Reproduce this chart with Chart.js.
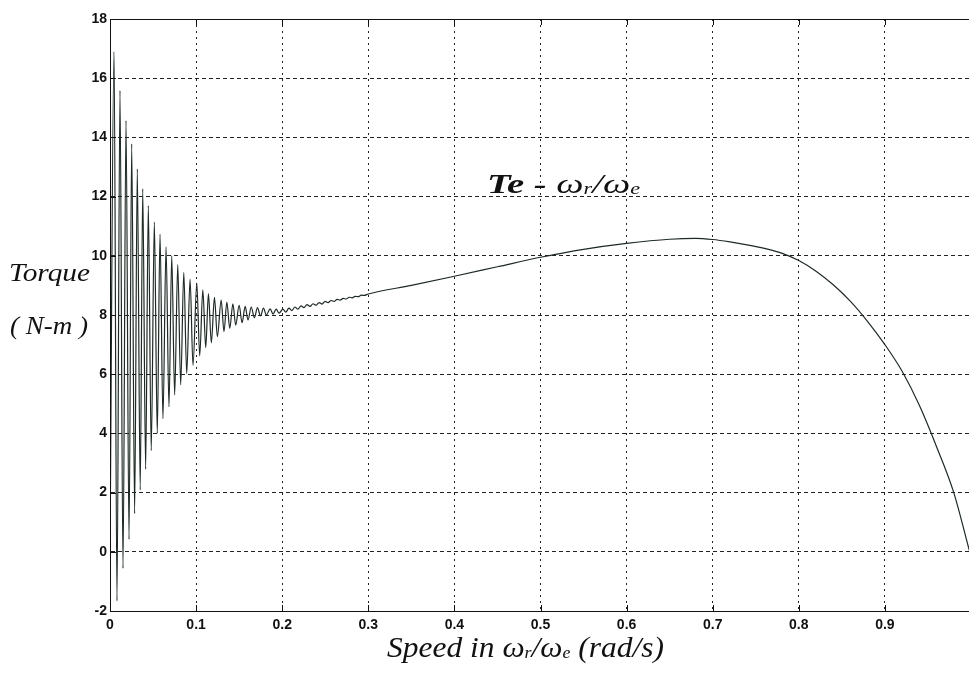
<!DOCTYPE html>
<html><head><meta charset="utf-8">
<script src="https://cdn.jsdelivr.net/npm/chart.js@4/dist/chart.umd.min.js"></script>
<style>html,body{margin:0;padding:0;background:#fff;overflow:hidden;width:969px;height:673px}</style>
</head><body>
<canvas id="c" width="974" height="673"></canvas>
<script>
// ---- data ----
const xTicks = [0, 0.1, 0.2, 0.3, 0.4, 0.5, 0.6, 0.7, 0.8, 0.9];
const yTicks = [-2, 0, 2, 4, 6, 8, 10, 12, 14, 16, 18];

const startX = [0];
const startY = [0];

// transient oscillation: peaks and troughs
const peakX = [0.0047,0.0116,0.0186,0.0252,0.0317,0.0380,0.0445,0.0515,0.0581,0.0651,0.0717,0.0787,0.0857,0.0930,0.1008,0.1078,0.1143,0.1213,0.1291,0.1357,0.1427,0.1500,0.1570,0.1640,0.1713,0.1783,0.1860,0.1930,0.2008];
const peakY = [16.9,15.58,14.57,13.78,12.94,12.26,11.7,11.14,10.73,10.3,10.0,9.7,9.44,9.21,9.08,8.85,8.72,8.6,8.5,8.44,8.38,8.33,8.29,8.27,8.25,8.23,8.21,8.2,8.2];
const troughX = [0.0081,0.0151,0.0221,0.0286,0.0351,0.0414,0.0479,0.0549,0.0615,0.0685,0.0751,0.0821,0.0891,0.0964,0.1042,0.1112,0.1177,0.1247,0.1324,0.1391,0.1460,0.1534,0.1603,0.1677,0.1747,0.1816,0.1894,0.1964,0.2042];
const troughY = [-1.66,-0.56,0.42,1.29,2.09,2.79,3.42,4.0,4.5,4.9,5.3,5.64,6.02,6.3,6.62,6.9,7.06,7.27,7.44,7.55,7.66,7.74,7.83,7.91,7.97,8.0,8.03,8.06,8.1];

// small ripple after 0.2
const rippleX = [0.2078,0.2113,0.2148,0.2183,0.2218,0.2253,0.2288,0.2323,0.2358,0.2393,0.2428,0.2463,0.2498,0.2533,0.2568,0.2603,0.2638,0.2673,0.2708,0.2743,0.2778,0.2813,0.2848,0.2883,0.2918,0.2953];
const rippleY = [8.23,8.15,8.27,8.20,8.31,8.25,8.35,8.29,8.38,8.33,8.42,8.37,8.46,8.42,8.49,8.46,8.53,8.50,8.56,8.54,8.60,8.58,8.63,8.62,8.67,8.66];

// steady part of the curve
const steadyX = [0.30,0.35,0.40,0.45,0.50,0.55,0.60,0.65,0.68,0.70,0.72,0.74,0.76,0.78,0.80,0.82,0.84,0.86,0.88,0.90,0.92,0.94,0.96,0.98,0.998];
const steadyY = [8.71,9.0,9.31,9.63,9.95,10.22,10.42,10.56,10.59,10.55,10.47,10.37,10.25,10.09,9.84,9.48,9.02,8.46,7.78,7.0,6.1,4.95,3.55,2.0,0.05];

// ---- build points ----
const pts = [];
startX.forEach((x,i)=>pts.push({x, y:startY[i]}));
peakX.forEach((x,i)=>{ pts.push({x, y:peakY[i]}); pts.push({x:troughX[i], y:troughY[i]}); });
rippleX.forEach((x,i)=>pts.push({x, y:rippleY[i]}));
steadyX.forEach((x,i)=>pts.push({x, y:steadyY[i]}));

function drawRuns(ctx, runs, x, base, targetW){
  let w = 0;
  runs.forEach(r=>{ ctx.font = r.font; r.w = ctx.measureText(r.t).width; w += r.w; });
  const sx = targetW ? targetW / w : 1;
  ctx.save();
  ctx.translate(x, base);
  ctx.scale(sx, 1);
  let cx = 0;
  runs.forEach(r=>{ ctx.font = r.font; ctx.fillText(r.t, cx, r.dy||0); cx += r.w; });
  ctx.restore();
}

const decor = {
  id: 'decor',
  afterDraw(chart){
    const ctx = chart.ctx, a = chart.chartArea;
    const xs = chart.scales.x, ys = chart.scales.y;
    ctx.save();
    ctx.strokeStyle = '#111'; ctx.lineWidth = 1;
    ctx.beginPath();
    ctx.rect(Math.round(a.left)+0.5, Math.round(a.top)+0.5, Math.round(a.right-a.left), Math.round(a.bottom-a.top));
    ctx.stroke();
    ctx.beginPath();
    yTicks.forEach(v=>{ const p = Math.round(ys.getPixelForValue(v))+0.5; ctx.moveTo(a.left, p); ctx.lineTo(a.left+6, p); });
    xTicks.forEach(v=>{ const p = Math.round(xs.getPixelForValue(v))+0.5; ctx.moveTo(p, a.bottom); ctx.lineTo(p, a.bottom-6); ctx.moveTo(p, a.top); ctx.lineTo(p, a.top+6); });
    ctx.stroke();
    ctx.fillStyle = '#111';
    ctx.textBaseline = 'alphabetic';
    const it = 'italic 25px "Liberation Serif"';
    drawRuns(ctx, [{t:'Torque', font: it}], 9, 281, 81);
    drawRuns(ctx, [{t:'( N-m )', font: it}], 10, 334, 78);
    const bt = 'italic 30px "Liberation Serif"', sm = 'italic 17px "Liberation Serif"';
    drawRuns(ctx, [{t:'Speed in ', font: bt},{t:'ω', font: bt},{t:'r', font: sm, dy:1},{t:'/ω', font: bt},{t:'e', font: sm, dy:1},{t:' (rad/s)', font: bt}], 387, 657, 277);
    const tb = 'bold italic 28px "Liberation Serif"', tw = 'italic 28px "Liberation Serif"', ts = 'italic 16px "Liberation Serif"';
    drawRuns(ctx, [{t:'Te - ', font: tb},{t:'ω', font: tw},{t:'r', font: ts, dy:1},{t:'/ω', font: tw},{t:'e', font: ts, dy:1}], 487, 193, 153);
    ctx.restore();
  }
};

new Chart(document.getElementById('c'), {
  type: 'line',
  data: { datasets: [{
    data: pts, borderColor: '#1f2a24', borderWidth: 1.2, pointRadius: 0,
    cubicInterpolationMode: 'monotone', fill: false
  }]},
  options: {
    responsive: false, animation: false, devicePixelRatio: 1,
    layout: { padding: { top: 19, left: 0, right: 3, bottom: 0 } },
    plugins: { legend: { display: false }, tooltip: { enabled: false } },
    scales: {
      x: {
        type: 'linear', min: 0, max: 1,
        afterBuildTicks: s => { s.ticks = xTicks.map(v=>({value:v})); },
        afterFit: s => { s.height = 62; },
        grid: { color: '#222', lineWidth: 1, drawTicks: false },
        border: { display: true, color: '#111', width: 1, dash: [2, 4] },
        ticks: { padding: 6, color: '#111', maxRotation: 0, autoSkip: false,
          font: { family: '"Liberation Sans"', size: 14, weight: 'bold' },
          callback: v => v === 0 ? '0' : v.toFixed(1) }
      },
      y: {
        min: -2, max: 18,
        afterBuildTicks: s => { s.ticks = yTicks.map(v=>({value:v})); },
        afterFit: s => { s.width = 110; },
        grid: { color: '#222', lineWidth: 1, drawTicks: false },
        border: { display: true, color: '#111', width: 1, dash: [4, 3] },
        ticks: { padding: 3, color: '#111', autoSkip: false,
          font: { family: '"Liberation Sans"', size: 14, weight: 'bold' },
          callback: v => String(v) }
      }
    }
  },
  plugins: [decor]
});
</script>
</body></html>
